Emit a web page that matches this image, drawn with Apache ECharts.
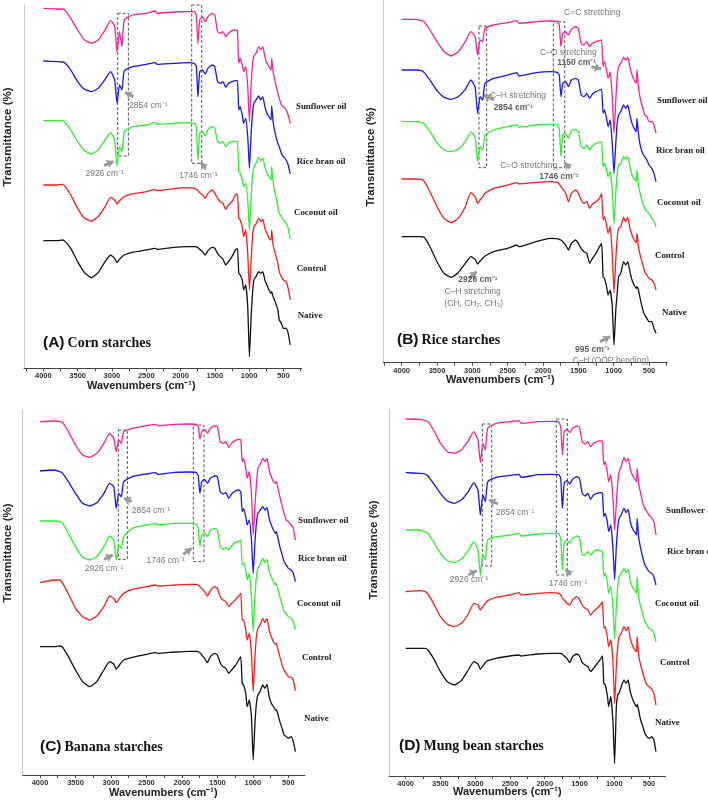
<!DOCTYPE html>
<html><head><meta charset="utf-8">
<script src="https://cdn.jsdelivr.net/npm/echarts@6/dist/echarts.min.js"></script>
<style>html,body{margin:0;padding:0;background:#fff}#c{width:708px;height:800px}</style>
</head><body><div id="c"></div>
<script>
// ---- DATA (wavenumber grid shared by every trace, values = offset transmittance, arbitrary units) ----
const wavenumbers = [4000,3800,3720,3680,3600,3500,3400,3300,3200,3100,
  3020,2960,2926,2890,2854,2820,2700,2500,2370,2340,
  2100,1900,1800,1770,1746,1720,1680,1640,1600,1540,
  1500,1460,1420,1380,1340,1300,1250,1200,1170,1150,
  1130,1100,1080,1050,1020,995,970,950,930,900,
  860,830,800,770,740,710,680,670,650,620,
  580,560,530,500,460,430,400];

const seriesNames = ['Sunflower oil','Rice bran oil','Coconut oil','Control','Native'];
const xTickLabels = [4000,3500,3000,2500,2000,1500,1000,500];
const xMinorTicks = [250,500,750,1000,1250,1500,1750,2000,2250,2500,2750,3000,3250,3500,3750,4000,4250];

// (A) Corn
const cornSunflower = [108.0,107.8,107.8,107.3,105.0,101.5,98.5,97.5,98.5,101.5,
  104.3,102.7,94.8,101.0,96.5,104.5,106.0,106.5,107.2,106.5,
  106.9,107.0,107.0,106.0,97.5,104.5,105.5,104.0,105.5,106.5,
  106.0,101.0,100.5,101.0,99.5,100.5,101.3,101.5,101.3,91.5,
  93.0,91.0,89.0,90.5,84.5,74.0,85.0,91.0,93.7,94.5,
  96.5,95.5,96.5,93.5,91.5,90.5,89.5,93.0,89.0,86.0,
  82.5,81.0,79.0,78.5,77.5,76.0,73.5];
const cornRiceBran = [92.2,92.0,91.9,91.5,89.5,86.0,83.7,83.0,84.0,86.7,
  89.0,86.5,79.5,85.0,83.5,89.3,90.5,91.2,91.7,91.2,
  91.5,91.7,91.5,90.7,81.5,89.0,89.5,88.3,90.0,91.0,
  90.5,86.0,85.5,86.0,84.3,85.5,86.0,86.3,86.3,77.5,
  78.5,76.0,73.5,75.0,69.5,60.0,70.5,76.5,79.5,80.5,
  81.7,80.5,81.5,78.5,76.5,75.5,74.5,78.7,74.0,70.5,
  67.5,66.5,64.5,63.5,62.5,61.0,58.3];
const cornCoconut = [74.3,74.3,74.3,73.7,71.5,68.0,65.3,64.3,65.5,68.5,
  70.7,68.5,60.7,66.5,65.0,71.0,72.5,73.0,73.7,73.2,
  73.5,73.7,73.5,72.5,62.5,70.5,71.0,69.7,71.7,72.5,
  72.0,68.0,67.5,68.0,66.5,67.5,68.0,68.0,68.0,59.0,
  58.5,56.5,54.5,55.5,50.5,41.5,51.5,57.5,60.5,61.5,
  63.3,62.3,63.0,60.5,58.5,57.5,56.5,60.5,56.0,52.5,
  48.5,46.5,45.5,44.5,43.5,42.0,38.7];
const cornControl = [55.0,55.0,55.2,54.5,52.0,48.0,45.0,44.2,45.5,48.5,
  51.3,50.5,49.3,50.2,51.0,51.5,52.3,53.0,53.7,53.3,
  53.9,54.2,54.0,53.7,53.3,52.7,52.0,51.0,52.5,53.5,
  52.5,51.0,50.0,49.5,47.7,49.0,50.0,52.0,52.3,45.0,
  44.5,42.5,39.5,41.5,34.5,23.5,32.5,39.5,42.5,43.3,
  45.0,44.0,44.7,42.0,40.5,39.0,38.5,41.5,37.0,34.5,
  31.5,29.0,27.5,26.5,26.0,24.0,20.5];
const cornNative = [38.3,38.3,38.5,38.0,36.0,32.0,28.7,27.2,28.7,32.0,
  34.0,33.0,31.7,32.7,33.5,34.0,34.8,35.5,36.0,35.7,
  36.3,36.5,36.5,36.4,36.2,35.7,35.0,34.0,35.3,36.3,
  36.0,34.5,33.5,32.7,31.0,32.0,33.5,35.5,36.0,28.5,
  28.0,26.5,23.5,25.0,18.5,3.5,15.5,22.5,26.5,27.5,
  29.0,28.5,29.0,26.5,25.0,23.5,22.5,23.0,21.5,20.0,
  17.5,14.5,13.5,12.0,12.0,10.5,7.0];

// (B) Rice
const riceSunflower = [103.0,103.0,102.6,102.2,99.8,96.3,93.3,92.0,93.3,96.3,
  99.3,97.8,92.3,96.8,96.3,100.3,101.3,102.0,102.6,101.8,
  102.3,102.5,102.3,101.3,94.8,98.8,99.3,98.3,100.0,100.8,
  100.3,95.8,95.3,96.3,94.8,95.8,96.3,96.6,96.8,88.8,
  90.3,87.8,85.3,87.3,79.8,68.8,78.8,85.8,88.8,89.8,
  91.6,90.8,91.6,88.8,86.3,84.8,83.8,87.8,82.8,78.8,
  75.8,74.3,73.8,72.3,72.3,71.3,68.8];
const riceRiceBran = [87.8,87.8,87.6,87.0,84.8,81.6,79.6,79.0,79.8,82.0,
  84.8,82.6,74.8,79.8,78.8,83.8,85.3,86.3,87.0,86.0,
  87.0,87.3,87.1,86.3,79.8,83.8,84.3,82.8,84.8,85.3,
  84.8,80.3,79.8,80.8,79.3,80.6,81.3,81.8,82.0,74.8,
  75.8,73.3,70.8,72.8,65.8,56.8,65.8,71.8,74.3,75.3,
  77.3,76.3,77.3,74.3,71.8,70.3,69.3,73.3,68.8,64.8,
  62.3,61.8,60.8,59.3,58.3,56.8,54.3];
const riceCoconut = [72.3,72.3,72.1,71.6,69.3,66.0,63.8,63.3,64.0,66.3,
  69.3,67.6,60.3,64.8,63.8,68.3,69.8,70.8,71.3,70.6,
  71.3,71.5,71.3,70.3,61.8,68.3,68.8,67.3,69.6,70.0,
  69.3,64.8,64.3,65.3,63.8,65.0,65.8,66.0,66.3,58.8,
  59.8,57.8,55.8,57.3,51.8,41.6,50.8,56.8,59.3,59.8,
  61.8,61.0,61.8,58.8,56.3,55.3,54.3,57.8,53.3,50.3,
  47.3,46.3,45.3,44.8,43.3,42.3,40.8];
const riceControl = [55.1,55.1,55.0,54.3,51.3,46.8,43.3,42.0,43.3,46.8,
  51.0,49.8,47.8,48.8,49.8,50.8,52.3,53.3,54.0,53.6,
  54.1,54.3,54.1,53.6,52.8,52.0,50.8,48.3,50.8,51.8,
  50.8,48.8,47.8,48.3,46.3,47.6,48.3,49.3,50.8,42.8,
  43.8,41.3,38.8,40.8,32.8,21.0,30.8,37.3,40.3,40.8,
  43.6,42.3,43.6,40.3,38.3,36.8,36.0,38.8,34.8,31.8,
  28.8,27.3,26.3,25.3,24.8,23.8,21.8];
const riceNative = [37.8,37.8,37.8,37.6,34.8,30.3,26.8,25.6,27.0,29.8,
  31.8,31.0,29.6,30.5,31.3,32.0,33.3,34.3,35.3,34.8,
  36.3,37.3,37.2,37.0,36.8,36.3,35.3,33.8,35.8,36.8,
  35.8,34.3,33.3,32.8,29.8,31.3,32.8,34.8,35.8,25.8,
  25.3,22.8,20.3,21.8,16.8,5.3,15.8,20.8,25.8,26.8,
  30.3,29.3,30.3,27.3,24.8,23.3,22.3,22.8,21.8,18.8,
  15.3,14.3,13.3,12.3,12.3,10.3,8.8];

// (C) Banana
const bananaSunflower = [106.0,106.2,106.0,105.7,103.0,99.0,96.0,95.3,96.5,99.5,
  102.5,101.0,97.0,100.5,99.5,103.0,104.0,104.8,105.2,104.8,
  105.2,105.3,105.2,104.5,100.7,103.0,103.7,102.5,104.0,104.7,
  104.5,100.0,99.5,100.0,98.3,99.5,100.3,100.7,100.5,94.0,
  95.0,92.0,89.0,91.0,84.5,72.0,81.0,87.0,92.0,93.0,
  95.0,94.0,95.0,91.5,89.5,88.0,87.5,88.0,86.5,83.5,
  80.0,78.5,76.5,76.0,75.0,74.0,70.5];
const bananaRiceBran = [91.2,91.5,91.0,90.5,88.0,84.5,81.5,80.7,81.7,84.5,
  87.5,86.5,80.0,84.5,83.5,88.0,89.5,90.3,90.7,90.2,
  90.8,90.9,90.8,89.7,84.5,88.0,88.7,87.5,89.0,89.7,
  89.5,85.0,84.3,84.7,83.0,84.3,85.2,85.5,85.0,79.0,
  80.0,77.5,75.0,76.5,70.5,60.5,70.0,75.5,78.5,79.3,
  80.5,79.5,80.2,77.0,75.0,73.5,72.5,73.0,71.5,68.5,
  65.5,64.0,63.0,62.0,61.5,60.5,58.0];
const bananaCoconut = [76.2,76.2,76.0,75.5,72.5,68.5,65.3,64.5,65.5,68.5,
  71.7,70.5,64.5,69.0,68.0,71.5,74.0,75.0,75.5,75.0,
  75.5,75.5,75.3,74.0,68.5,72.0,72.5,71.5,73.5,74.0,
  73.5,68.5,67.7,68.3,67.5,68.7,69.7,70.0,70.5,63.0,
  63.5,61.5,58.5,60.5,53.5,43.0,53.5,59.5,62.0,63.0,
  65.0,63.7,64.7,61.0,59.5,58.0,57.0,57.5,56.0,53.5,
  50.5,49.0,48.5,47.5,47.0,46.0,43.7];
const bananaControl = [57.7,58.5,58.5,57.5,54.3,50.0,47.5,46.5,47.7,50.5,
  53.7,53.0,51.7,52.7,53.7,54.5,55.7,56.5,57.0,56.7,
  57.0,57.2,57.2,57.0,56.5,56.0,55.0,53.7,55.3,56.5,
  56.0,53.5,52.5,52.0,50.5,51.5,52.5,53.7,54.5,46.5,
  46.5,43.5,40.5,42.5,36.5,25.0,35.5,41.5,44.0,45.0,
  47.0,45.7,47.0,43.5,41.5,40.0,39.3,39.5,38.0,35.5,
  32.5,31.5,30.5,29.5,29.3,28.5,25.3];
const bananaNative = [38.5,38.5,38.7,38.3,35.5,31.5,28.0,26.5,28.0,31.5,
  34.0,33.3,31.7,32.7,33.7,34.5,35.3,36.2,36.7,36.5,
  36.9,37.1,37.1,37.0,36.7,36.0,35.0,33.7,35.5,36.5,
  36.0,33.7,32.5,32.0,30.5,31.5,32.7,34.5,35.5,27.5,
  27.0,24.5,20.5,22.5,17.5,4.5,15.5,21.5,24.0,25.0,
  27.0,26.0,27.2,23.5,21.5,20.5,19.5,19.5,18.5,16.0,
  13.5,12.0,11.5,11.0,11.5,10.0,7.0];

// (D) Mung bean
const mungSunflower = [107.1,107.0,106.6,106.3,103.8,99.8,97.3,96.8,97.8,100.6,
  103.3,100.8,94.0,99.8,97.8,104.3,105.8,106.3,106.6,105.8,
  106.3,106.4,106.2,104.8,96.3,103.3,104.0,103.0,104.3,105.0,
  104.6,100.3,99.6,100.3,98.8,99.8,100.3,100.6,100.3,93.3,
  94.3,91.3,88.3,90.3,83.8,73.8,81.8,87.8,91.3,92.8,
  95.6,94.3,95.3,92.3,90.3,89.3,88.3,92.3,87.8,84.8,
  81.3,80.3,79.3,78.3,77.3,76.3,72.3];
const mungRiceBran = [91.0,90.8,90.6,90.0,87.8,84.8,82.5,81.8,82.8,85.3,
  88.0,85.8,78.3,84.3,82.3,88.3,89.6,90.2,90.5,89.6,
  90.4,90.5,90.4,89.3,80.3,87.8,88.6,87.6,89.0,89.8,
  89.3,84.8,84.0,84.8,83.0,84.3,84.8,85.0,84.8,77.8,
  78.8,76.3,73.3,75.3,68.8,59.0,68.8,74.3,77.3,78.3,
  80.3,79.0,80.0,76.3,74.3,73.3,72.3,77.3,71.8,68.3,
  64.8,63.3,62.3,61.3,60.8,59.8,57.3];
const mungCoconut = [73.8,73.8,73.3,72.8,70.3,66.8,64.6,64.0,65.0,67.6,
  70.3,67.8,60.3,66.3,64.8,70.8,71.8,72.3,72.8,72.0,
  72.6,72.8,72.6,71.3,61.8,69.8,70.8,69.8,71.3,72.0,
  71.6,66.3,66.3,67.3,66.3,67.3,67.8,67.6,67.3,59.8,
  60.8,58.3,54.8,56.8,50.8,41.3,50.8,56.8,59.8,60.8,
  62.3,61.0,62.0,58.3,56.8,55.8,54.8,59.8,53.8,50.8,
  47.8,46.3,45.3,44.3,43.8,42.8,40.3];
const mungControl = [55.3,55.6,55.3,54.6,51.8,47.8,45.5,44.8,45.8,48.6,
  51.8,51.3,49.8,50.8,51.8,52.6,53.6,54.3,55.0,54.3,
  54.8,55.0,54.8,54.3,53.3,52.8,51.8,51.3,52.8,53.8,
  53.0,51.3,50.3,49.8,48.3,49.3,50.3,51.3,52.3,44.3,
  44.8,41.8,38.8,40.8,34.8,21.8,32.8,38.8,41.8,42.8,
  44.8,43.6,44.8,41.3,39.3,38.0,37.3,41.8,36.3,33.3,
  30.3,28.8,27.3,26.8,26.0,24.8,21.3];
const mungNative = [38.3,38.3,38.3,37.8,35.3,31.3,28.3,27.3,28.6,31.8,
  34.3,33.6,32.0,33.0,34.0,34.6,35.3,36.0,36.3,36.0,
  36.6,36.8,36.8,36.7,36.5,36.0,35.3,34.0,35.8,36.6,
  36.0,34.0,33.3,32.8,31.3,32.3,33.6,35.0,36.0,27.8,
  27.3,24.3,20.8,23.8,16.8,3.8,20.8,24.3,24.8,26.8,
  28.8,27.8,28.8,25.3,23.3,21.8,20.8,21.5,19.8,16.8,
  14.3,12.8,11.8,11.3,11.8,10.8,7.3];

// annotations: boxes [w1,v1,w2,v2], arrows [tailW,tailV,headW,headV], texts [w,v,text,bold]
const cornBoxes = [[2916,106.5,2760,63.7],[1837,109,1691,61.5]];
const cornArrows = [[2687,81.5,2809,82.8],[3115,60.8,2979,62.1],[1632,59.8,1705,61.8]];
const cornTexts = [[2469,78.9,'2854 cm⁻¹',0],[3106,58.3,'2926 cm⁻¹',0],[1740,57.7,'1746 cm⁻¹',0]];

const riceBoxes = [[2906,101,2797,58.5],[1854,102.3,1693,58.5]];
const riceArrows = [[1316,88.8,1175,88.2],[2693,78.8,2835,80.3],[1618,58.3,1693,60.0],[3047,25.3,2939,27.3],[1193,6.3,1052,7.8]];
const riceTexts = [[1302,105,'C=C stretching',0],[1642,93.1,'C–O stretching',0],[1524,90,'1150 cm⁻¹',1],
  [2354,80.1,'C–H stretching',0],[2420,76.6,'2854 cm⁻¹',1],[2203,59.0,'C=O stretching',0],[1774,55.8,'1746 cm⁻¹',1],
  [2920,25.0,'2926 cm⁻¹',1],[2995,21.3,'C–H stretching',0],[2981,17.6,'(CH, CH₂, CH₃)',0],
  [1302,4.0,'995 cm⁻¹',1],[1042,0.6,'C–H (OOP bending)',0]];

const bananaBoxes = [[2896,103.5,2769,64.7],[1839,105,1689,64]];
const bananaArrows = [[2708,82.0,2816,83.0],[3098,64.7,2976,66.0],[1980,66.2,1863,68.0]];
const bananaTexts = [[2436,79.3,'2854 cm⁻¹',0],[3098,62.0,'2926 cm⁻¹',0],[2229,64.3,'1746 cm⁻¹',0]];

const mungBoxes = [[2897,105.6,2763,63.0],[1833,107.1,1675,60.3]];
const mungArrows = [[2672,81.6,2801,82.8],[3099,60.3,2979,61.6],[1627,60.3,1699,62.0]];
const mungTexts = [[2427,79.0,'2854 cm⁻¹',0],[3089,59.0,'2926 cm⁻¹',0],[1665,57.6,'1746 cm⁻¹',0]];

// ---- LAYOUT / STYLE ----
const colors = ['#ff2090','#1414ff','#2ef02e','#ff1a1a','#111111'];
const panels = [
  {letter:'(A)', title:'Corn starches', data:[cornSunflower,cornRiceBran,cornCoconut,cornControl,cornNative],
   grid:[24,5,277.7,363.3], xr:[233,4282], ymax:109, boxes:cornBoxes, arrows:cornArrows, texts:cornTexts,
   labels:[[296,106.7],[296.7,161.7],[294,213],[296.7,269],[297.7,315.7]], titlePos:[43,343], yName:[8,137], xName:[141.3,386]},
  {letter:'(B)', title:'Rice starches', data:[riceSunflower,riceRiceBran,riceCoconut,riceControl,riceNative],
   grid:[383.3,0,284,362.7], xr:[241,4260], ymax:108.8, boxes:riceBoxes, arrows:riceArrows, texts:riceTexts,
   labels:[[657,101],[656,150.7],[657,203],[655,256],[662,313]], titlePos:[397,340], yName:[371,157], xName:[500.3,380]},
  {letter:'(C)', title:'Banana starches', data:[bananaSunflower,bananaRiceBran,bananaCoconut,bananaControl,bananaNative],
   grid:[22.7,410,282.3,365], xr:[265,4244], ymax:109.5, boxes:bananaBoxes, arrows:bananaArrows, texts:bananaTexts,
   labels:[[298,521],[298,559],[297,604],[302,658],[304,719]], titlePos:[40,747], yName:[8,553], xName:[163.3,793.3]},
  {letter:'(D)', title:'Mung bean starches', data:[mungSunflower,mungRiceBran,mungCoconut,mungControl,mungNative],
   grid:[389,410,276.7,366], xr:[260,4240], ymax:109.8, boxes:mungBoxes, arrows:mungArrows, texts:mungTexts,
   labels:[[666,511],[667,552],[655,604],[660,663],[655,723]], titlePos:[399,746], yName:[374,550], xName:[507.3,791.7]}
];

const chart = echarts.init(document.getElementById('c'));
const grids=[], xAxes=[], yAxes=[], series=[], graphics=[];
panels.forEach((p,i)=>{
  grids.push({left:p.grid[0], top:p.grid[1], width:p.grid[2], height:p.grid[3], containLabel:false});
  xAxes.push({type:'value', gridIndex:i, inverse:true, min:p.xr[0], max:p.xr[1],
    axisLine:{show:true, onZero:false, lineStyle:{color:'#444', width:1}},
    axisTick:{show:true, length:3, customValues:xMinorTicks.filter(v=>v>=p.xr[0]&&v<=p.xr[1]), lineStyle:{color:'#444'}},
    axisLabel:{show:true, customValues:xTickLabels, formatter:v=>String(v), fontSize:7.5, fontWeight:'bold', color:'#333', margin:4, fontFamily:'Liberation Sans'},
    splitLine:{show:false}});
  yAxes.push({type:'value', gridIndex:i, min:0, max:p.ymax,
    axisLine:{show:true, onZero:false, lineStyle:{color:'#c8c8c8', width:1}},
    axisTick:{show:false}, axisLabel:{show:false}, splitLine:{show:false}});
  p.data.forEach((arr,k)=>{
    const s = {type:'line', name:p.title+' – '+seriesNames[k], xAxisIndex:i, yAxisIndex:i,
      data:wavenumbers.map((w,j)=>[w,arr[j]]), showSymbol:false, symbol:'none', smooth:0.15,
      lineStyle:{color:colors[k], width:1.3}, itemStyle:{color:colors[k]}, silent:true, animation:false, z:3};
    if(k===0){
      s.markArea = {silent:true, label:{show:false},
        itemStyle:{color:'rgba(0,0,0,0)', borderColor:'#555', borderWidth:1, borderType:[3,2]},
        data:p.boxes.map(b=>[{coord:[b[0],b[1]]},{coord:[b[2],b[3]]}])};
      s.markLine = {silent:true, symbol:['none','arrow'], symbolSize:7, label:{show:false}, animation:false,
        lineStyle:{color:'#9a9a9a', width:3, type:'solid'},
        data:p.arrows.map(a=>[{coord:[a[0],a[1]]},{coord:[a[2],a[3]]}])};
    }
    series.push(s);
  });
  series.push({type:'scatter', xAxisIndex:i, yAxisIndex:i, symbol:'circle', symbolSize:1, silent:true, animation:false,
    itemStyle:{color:'rgba(0,0,0,0)'}, z:5,
    label:{show:true, position:'inside', color:'#444', fontSize:8.5, fontFamily:'Liberation Sans'},
    data:p.texts.map(t=>({value:[t[0],t[1]], label:{formatter:t[2], fontWeight:t[3]?'bold':'normal', color:t[3]?'#333':'#555'}}))});
  p.labels.forEach((pos,k)=>{
    graphics.push({type:'text', x:pos[0], y:pos[1], silent:true,
      style:{text:seriesNames[k], fontSize:8.9, fontWeight:'bold', fontFamily:'Liberation Serif', fill:'#1a1a1a',
        align:'left', verticalAlign:'middle', textAlign:'left', textVerticalAlign:'middle'}});
  });
  graphics.push({type:'text', x:p.titlePos[0], y:p.titlePos[1], silent:true,
    style:{text:'{a|'+p.letter+'}{b|'+p.title+'}', verticalAlign:'middle', textVerticalAlign:'middle',
      rich:{a:{fontSize:15.5, fontWeight:'bold', fontFamily:'Liberation Sans', fill:'#111', padding:[0,3,0,0]},
            b:{fontSize:14, fontWeight:'bold', fontFamily:'Liberation Serif', fill:'#111'}}}});
  graphics.push({type:'text', x:p.yName[0], y:p.yName[1], rotation:Math.PI/2, silent:true,
    style:{text:'Transmittance (%)', fontSize:11.5, fontWeight:'bold', fontFamily:'Liberation Sans', fill:'#222',
      align:'center', verticalAlign:'middle', textAlign:'center', textVerticalAlign:'middle'}});
  graphics.push({type:'text', x:p.xName[0], y:p.xName[1], silent:true,
    style:{text:'Wavenumbers (cm⁻¹)', fontSize:11, fontWeight:'bold', fontFamily:'Liberation Sans', fill:'#222',
      align:'center', verticalAlign:'middle', textAlign:'center', textVerticalAlign:'middle'}});
});

chart.setOption({animation:false, backgroundColor:'#fff', grid:grids, xAxis:xAxes, yAxis:yAxes, series:series, graphic:graphics});
</script></body></html>
